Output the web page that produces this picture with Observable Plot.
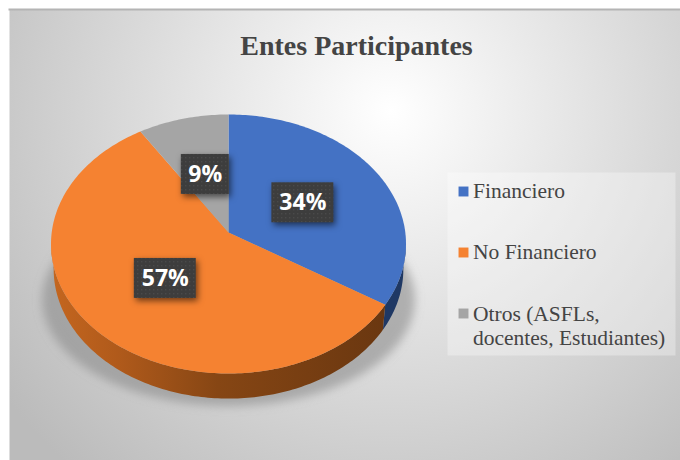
<!DOCTYPE html>
<html>
<head>
<meta charset="utf-8">
<style>html,body{margin:0;padding:0;background:#fff}svg{display:block}</style>
<script src="https://cdn.jsdelivr.net/npm/d3@7"></script>
<script src="https://cdn.jsdelivr.net/npm/@observablehq/plot@0.6"></script>
</head>
<body>
<div id="chart"></div>
<script>
const categories = ["Financiero", "No Financiero", "Otros (ASFLs,\ndocentes, Estudiantes)"];
const shares = [34, 57, 9];
const colors = ["#4472c4", "#f58231", "#a5a5a5"];
const chartTitle = "Entes Participantes";

const tilt = 0.0888;      // perspective of the tilted disc
const thickness = 0.195;  // height of the disc rim
const rimShrink = 0.985;  // the far end of the rim is a little narrower
const labelRadius = 0.49;

const project = (deg, r = 1, drop = 0, sx = 1) => {
  const t = deg * Math.PI / 180, u = r * Math.sin(t), v = -r * Math.cos(t), s = 1 / (1 - tilt * v);
  return {x: u * s * sx, y: v * s + drop};
};
const total = d3.sum(shares);
let acc = 0;
const slices = shares.map((v, i) => {
  const a0 = acc / total * 360; acc += v; const a1 = acc / total * 360;
  return {name: categories[i], value: v, color: colors[i], a0, a1, mid: (a0 + a1) / 2};
});
const arc = (a0, a1, drop = 0, sx = 1) => {
  const n = Math.max(2, Math.ceil(Math.abs(a1 - a0)));
  return d3.range(n + 1).map(k => project(a0 + (a1 - a0) * k / n, 1, drop, sx));
};
const facePoints = slices.flatMap(s =>
  [project(0, 0), ...arc(s.a0, s.a1)].map(p => ({...p, name: s.name, color: s.color})));
const horizon = Math.acos(-tilt) * 180 / Math.PI;
const rimPolygon = (a0, a1) => [...arc(a0, a1), ...arc(a1, a0, thickness, rimShrink)];
const rimBlue = rimPolygon(horizon, slices[0].a1);
const rimOrange = rimPolygon(slices[0].a1, 360 - horizon);
const shadow = arc(0, 360).map(p => ({x: p.x * 1.05, y: p.y * 0.82 + 0.45}));

const labels = slices.map(s => {
  const p = project(s.mid, labelRadius);
  const text = s.value + "%";
  const hw = (20 + 14 * text.length) / 2 / 177, hh = 20 / 128.5;
  return {...p, text, x1: p.x - hw, x2: p.x + hw, y1: p.y - hh, y2: p.y + hh};
});

const defs = () => {
  const d = d3.create("svg:defs");
  const bg = d.append("radialGradient").attr("id", "bg").attr("gradientUnits", "userSpaceOnUse")
    .attr("cx", 390).attr("cy", 110).attr("r", 480);
  bg.append("stop").attr("offset", 0).attr("stop-color", "#ffffff");
  bg.append("stop").attr("offset", 1).attr("stop-color", "#bbbbbb");
  const rim = d.append("linearGradient").attr("id", "rimOrange");
  [[0, "#c4661f"], [0.2, "#b05a1b"], [0.5, "#864614"], [1, "#6a3710"]].forEach(([o, c]) =>
    rim.append("stop").attr("offset", o).attr("stop-color", c));
  const pat = d.append("pattern").attr("id", "dots").attr("patternUnits", "userSpaceOnUse")
    .attr("width", 4).attr("height", 4);
  pat.append("rect").attr("width", 4).attr("height", 4).attr("fill", "#3d3d3d");
  pat.append("rect").attr("x", 1).attr("y", 1).attr("width", 1.4).attr("height", 1.4).attr("fill", "#4a4a4a");
  const blur = d.append("filter").attr("id", "soft").attr("x", "-20%").attr("y", "-20%").attr("width", "140%").attr("height", "140%");
  blur.append("feGaussianBlur").attr("stdDeviation", 5);
  return d.node();
};

const legendFont = {fontFamily: "Liberation Serif", fontSize: 21.5, fill: "#444444", textAnchor: "start", lineAnchor: "middle", lineHeight: 1.16, frameAnchor: "top-left"};
const swatchDy = [182, 243, 304];
const legendDy = [180.5, 241.5, 315.5];
const legendMarks = categories.flatMap((c, i) => [
  Plot.dot([c], {frameAnchor: "top-left", dx: 454, dy: swatchDy[i], symbol: "square", r: 5.6, fill: colors[i], stroke: "none"}),
  Plot.text([c], {...legendFont, text: d => d, dx: 463.5, dy: legendDy[i]})
]);

const chart = Plot.plot({
  width: 680, height: 460,
  marginLeft: 9, marginTop: 9, marginRight: 0, marginBottom: 0,
  style: {background: "#fff"},
  x: {type: "linear", domain: [-1, 1], range: [51.2, 404.8], axis: null},
  y: {type: "linear", domain: [-1, 1], range: [103.5, 360.5], axis: null},
  marks: [
    defs,
    Plot.frame({fill: "url(#bg)", stroke: "none"}),
    Plot.frame({anchor: "top", stroke: "#b4b4b4", strokeWidth: 2}),
    Plot.line(shadow, {x: "x", y: "y", fill: "#8c8c8c", stroke: "none", fillOpacity: 0.6, imageFilter: "url(#soft)"}),
    Plot.line(rimBlue, {x: "x", y: "y", fill: "#1f3864", stroke: "none"}),
    Plot.line(rimOrange, {x: "x", y: "y", fill: "url(#rimOrange)", stroke: "none"}),
    Plot.line(facePoints, {x: "x", y: "y", z: "name", fill: "color", stroke: "none"}),
    Plot.frame({fill: "#ffffff", fillOpacity: 0.32, stroke: "none", insetLeft: 438, insetTop: 163, insetRight: 5, insetBottom: 105}),
    Plot.rect(labels, {x1: "x1", x2: "x2", y1: "y1", y2: "y2", fill: "url(#dots)", imageFilter: "drop-shadow(2px 3px 3px rgba(0,0,0,0.55))"}),
    Plot.text(labels, {x: "x", y: "y", text: "text", fill: "#ffffff", fontFamily: "Open Sans", fontWeight: 700, fontSize: 23, lineAnchor: "middle"}),
    Plot.text([chartTitle], {text: d => d, frameAnchor: "top-left", textAnchor: "middle", dx: 347, dy: 37, fontFamily: "Liberation Serif", fontWeight: 700, fontSize: 28, fill: "#444444", lineAnchor: "middle"}),
    ...legendMarks
  ]
});
document.getElementById("chart").append(chart);
</script>
</body>
</html>
